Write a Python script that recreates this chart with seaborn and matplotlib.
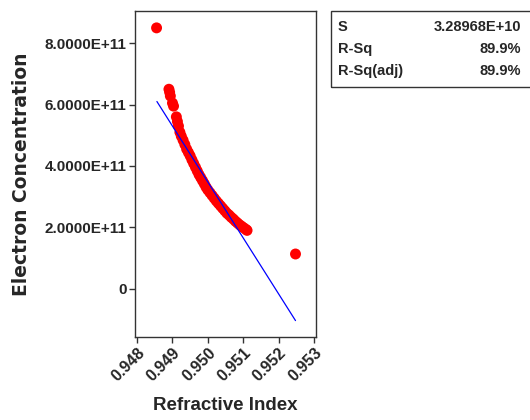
import numpy as np
import pandas as pd
import matplotlib.pyplot as plt
import seaborn as sns

# data
refractive_index = [0.94855, 0.94890, 0.94892, 0.94894, 0.94900, 0.94903,
                    0.94911, 0.94914, 0.94917, 0.94921, 0.94925, 0.94930,
                    0.94935, 0.94940, 0.94945, 0.94950, 0.94955, 0.94960,
                    0.94965, 0.94970, 0.94975, 0.94980, 0.94985, 0.94990,
                    0.94995, 0.95000, 0.95006, 0.95012, 0.95018, 0.95024,
                    0.95030, 0.95036, 0.95042, 0.95048, 0.95054, 0.95060,
                    0.95066, 0.95072, 0.95078, 0.95084, 0.95090, 0.95096,
                    0.95102, 0.95108, 0.95111, 0.95248]
electron_conc = [8.50, 6.50, 6.40, 6.28, 6.05, 5.95,
                 5.60, 5.45, 5.30, 5.10, 4.97, 4.84,
                 4.70, 4.55, 4.44, 4.33, 4.20, 4.08,
                 3.96, 3.84, 3.72, 3.62, 3.52, 3.42,
                 3.31, 3.22, 3.13, 3.04, 2.95, 2.86,
                 2.78, 2.70, 2.62, 2.54, 2.46, 2.40,
                 2.33, 2.27, 2.20, 2.14, 2.08, 2.03,
                 1.98, 1.93, 1.90, 1.13]
electron_conc = [v * 1e11 for v in electron_conc]

# fitted regression line
fit_x = [0.94856, 0.95248]
fit_y = [6.10e11, -1.04e11]

x_ticks = [0.948, 0.949, 0.950, 0.951, 0.952, 0.953]
x_labels = ['0.948', '0.949', '0.950', '0.951', '0.952', '0.953']
y_ticks = [0, 2e11, 4e11, 6e11, 8e11]
y_labels = ['0', '2.0000E+11', '4.0000E+11', '6.0000E+11', '8.0000E+11']

stat_names = ['S', 'R-Sq', 'R-Sq(adj)']
stat_values = ['3.28968E+10', '89.9%', '89.9%']

df = pd.DataFrame({'Refractive Index': refractive_index,
                   'Electron Concentration': electron_conc})
fit = pd.DataFrame({'x': fit_x, 'y': fit_y})

sns.set_style('white')
plt.rcParams['font.family'] = ['Liberation Sans', 'DejaVu Sans']

fig = plt.figure(figsize=(5.3, 4.2), dpi=100)
ax = fig.add_axes([135 / 530, 83 / 420, 181 / 530, 326 / 420])

sns.scatterplot(data=df, x='Refractive Index', y='Electron Concentration',
                color='#ff0000', s=62, edgecolor='none', ax=ax, zorder=2)
sns.lineplot(data=fit, x='x', y='y', color='#0000ff', linewidth=0.9,
             ax=ax, zorder=3)

ax.set_xlim(0.94794, 0.95306)
ax.set_ylim(-1.575e11, 9.05e11)
ax.set_xticks(x_ticks)
ax.set_xticklabels(x_labels, rotation=45, ha='right', rotation_mode='anchor',
                   fontsize=11.5, fontweight='bold')
ax.set_yticks(y_ticks)
ax.set_yticklabels(y_labels, fontsize=11, fontweight='bold')
ax.tick_params(axis='both', direction='out', length=4, width=1,
               color='#333333', bottom=True, left=True, pad=2)

for sp in ax.spines.values():
    sp.set_color('#333333')
    sp.set_linewidth(1)

ax.set_xlabel('Refractive Index', fontsize=13.5, fontweight='bold', labelpad=9)
ax.set_ylabel('Electron Concentration', fontsize=13.5, fontweight='bold',
              family='DejaVu Sans', labelpad=10)

# summary box
box = plt.Rectangle((331 / 530, 1 - 87 / 420), 0.4, 76 / 420,
                    transform=fig.transFigure, fill=False,
                    edgecolor='#333333', linewidth=1)
fig.patches.append(box)
row_y = [27, 49, 71]
for name, val, yy in zip(stat_names, stat_values, row_y):
    fig.text(338 / 530, 1 - yy / 420, name, fontsize=10.5, fontweight='bold',
             va='center', ha='left')
    fig.text(521 / 530, 1 - yy / 420, val, fontsize=10.5, fontweight='bold',
             va='center', ha='right')

fig.savefig('out.png', dpi=100)
